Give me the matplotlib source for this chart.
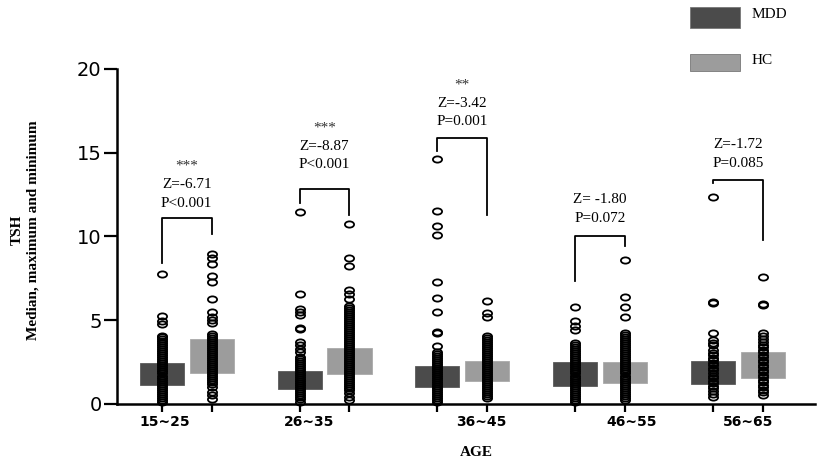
import matplotlib
matplotlib.use("Agg")
import matplotlib.pyplot as plt
from matplotlib.path import Path
from matplotlib.patches import Rectangle
from matplotlib.transforms import Affine2D

# age groups and bar ranges (TSH)
groups = ["15~25", "26~35", "36~45", "46~55", "56~65"]
mdd_low = [1.13, 0.91, 1.03, 1.07, 1.19]
mdd_high = [2.43, 1.97, 2.29, 2.49, 2.57]
hc_low = [1.83, 1.77, 1.39, 1.27, 1.57]
hc_high = [3.86, 3.36, 2.59, 2.53, 3.09]

# individual values
mdd_pts = [
    [7.74, 5.25, 4.96, 4.78, 4.08, 3.97, 3.85, 3.74, 3.62, 3.50, 3.38, 3.26, 3.14, 3.02,
     2.90, 2.78, 2.66, 2.54, 2.42, 2.30, 2.18, 2.06, 1.94, 1.82, 1.70, 1.58, 1.46, 1.34,
     1.22, 1.10, 0.98, 0.86, 0.74, 0.62, 0.50, 0.38, 0.26, 0.14],
    [11.44, 6.55, 5.67, 5.52, 5.31, 4.52, 4.50, 3.72, 3.50, 3.30, 3.10, 2.82, 2.70, 2.58,
     2.46, 2.34, 2.22, 2.10, 1.98, 1.86, 1.74, 1.62, 1.50, 1.38, 1.26, 1.14, 1.02, 0.90,
     0.78, 0.66, 0.54, 0.42, 0.30, 0.14],
    [14.60, 11.52, 10.63, 10.07, 7.27, 6.31, 5.51, 4.30, 4.22, 3.46, 3.12, 3.00, 2.88, 2.76,
     2.64, 2.52, 2.40, 2.28, 2.16, 2.04, 1.92, 1.80, 1.68, 1.56, 1.44, 1.32, 1.20, 1.08,
     0.96, 0.84, 0.72, 0.60, 0.48, 0.36, 0.24, 0.14],
    [5.81, 4.97, 4.66, 4.42, 3.62, 3.50, 3.38, 3.26, 3.14, 3.02, 2.90, 2.78, 2.66, 2.54,
     2.42, 2.30, 2.18, 2.06, 1.94, 1.82, 1.70, 1.58, 1.46, 1.34, 1.22, 1.10, 0.98, 0.86,
     0.74, 0.62, 0.50, 0.38, 0.26, 0.14],
    [12.38, 6.10, 6.04, 4.22, 3.80, 3.62, 3.50, 3.22, 3.05, 2.90, 2.75, 2.60, 2.45, 2.30,
     2.15, 2.00, 1.85, 1.70, 1.55, 1.40, 1.25, 1.10, 0.95, 0.80, 0.62, 0.44],
]
hc_pts = [
    [8.96, 8.70, 8.36, 7.64, 7.30, 6.29, 5.47, 5.21, 5.01, 4.84, 4.18, 4.06, 3.94, 3.82,
     3.70, 3.58, 3.46, 3.34, 3.22, 3.10, 2.98, 2.86, 2.74, 2.62, 2.50, 2.38, 2.26, 2.14,
     2.02, 1.90, 1.78, 1.66, 1.54, 1.42, 1.30, 1.18, 1.03, 0.74, 0.54, 0.28],
    [10.73, 8.73, 8.26, 6.81, 6.55, 6.27, 5.85, 5.73, 5.61, 5.49, 5.37, 5.25, 5.13, 5.01,
     4.89, 4.77, 4.65, 4.53, 4.41, 4.29, 4.17, 4.05, 3.93, 3.81, 3.69, 3.57, 3.45, 3.33,
     3.21, 3.09, 2.97, 2.85, 2.73, 2.61, 2.49, 2.37, 2.25, 2.13, 2.01, 1.89, 1.77, 1.65,
     1.53, 1.41, 1.29, 1.17, 1.05, 0.93, 0.81, 0.64, 0.44, 0.24],
    [6.15, 5.41, 5.21, 4.06, 3.94, 3.82, 3.70, 3.58, 3.46, 3.34, 3.22, 3.10, 2.98, 2.86,
     2.74, 2.62, 2.50, 2.38, 2.26, 2.14, 2.02, 1.90, 1.78, 1.66, 1.54, 1.42, 1.30, 1.18,
     1.06, 0.94, 0.82, 0.70, 0.58, 0.46, 0.34],
    [8.60, 6.41, 5.81, 5.21, 4.22, 4.10, 3.98, 3.86, 3.74, 3.62, 3.50, 3.38, 3.26, 3.14,
     3.02, 2.90, 2.78, 2.66, 2.54, 2.42, 2.30, 2.18, 2.06, 1.94, 1.82, 1.70, 1.58, 1.46,
     1.34, 1.22, 1.10, 0.98, 0.86, 0.74, 0.62, 0.50, 0.38, 0.24],
    [7.60, 5.98, 5.92, 4.22, 4.05, 3.88, 3.70, 3.55, 3.40, 3.25, 3.10, 2.95, 2.80, 2.65,
     2.50, 2.35, 2.20, 2.05, 1.90, 1.75, 1.60, 1.45, 1.30, 1.15, 1.00, 0.85, 0.70, 0.54],
]

# significance brackets: left leg end, top, right leg end
br_left = [8.40, 11.98, 15.12, 7.36, 13.20]
br_top = [11.12, 12.82, 15.86, 10.05, 13.37]
br_right = [10.13, 11.28, 11.28, 9.45, 9.79]
stars = ["***", "***", "**", "", ""]
z_text = ["Z=-6.71", "Z=-8.87", "Z=-3.42", "Z= -1.80", "Z=-1.72"]
p_text = ["P<0.001", "P<0.001", "P=0.001", "P=0.072", "P=0.085"]
p_y = [11.98, 14.27, 16.86, 11.09, 14.37]

# layout
off = 0.181
bar_w = 0.32
label_x = [-0.16, 0.89, 2.14, 3.23, 4.07]
dark = "#4b4b4b"
light = "#9c9c9c"
serif = "Liberation Serif"

# elliptical open circle marker
ell = Path.unit_circle().transformed(Affine2D().scale(1.0, 0.68))

fig = plt.figure(figsize=(8.29, 4.68), dpi=100)
ax = fig.add_axes([0.1411, 0.1368, 0.842, 0.7158])

xm = [i - off for i in range(len(groups))]
xh = [i + off for i in range(len(groups))]

ax.bar(xm, [h - l for h, l in zip(mdd_high, mdd_low)], bottom=mdd_low, width=bar_w,
       color=dark, edgecolor="#5a5a5a", linewidth=0.6, zorder=2)
ax.bar(xh, [h - l for h, l in zip(hc_high, hc_low)], bottom=hc_low, width=bar_w,
       color=light, edgecolor="#aaaaaa", linewidth=0.6, zorder=2)

for i in range(len(groups)):
    for x, vals in ((xm[i], mdd_pts[i]), (xh[i], hc_pts[i])):
        ax.plot([x] * len(vals), vals, ls="none", marker=ell, ms=6.6, mew=1.3,
                mec="black", mfc="none", zorder=3, clip_on=False)

    # bracket
    ax.plot([xm[i], xm[i], xh[i], xh[i]], [br_left[i], br_top[i], br_top[i], br_right[i]],
            color="black", lw=1.3, zorder=4)
    mid = i
    ax.text(mid, p_y[i], p_text[i], ha="center", va="center", fontsize=11, family=serif)
    ax.text(mid, p_y[i] + 1.1, z_text[i], ha="center", va="center", fontsize=11, family=serif)
    if stars[i]:
        ax.text(mid, p_y[i] + 2.2, stars[i], ha="center", va="center", fontsize=11,
                family=serif, color="#333333")

ax.set_xlim(-0.506, 4.559)
ax.set_ylim(0, 20)
ax.set_yticks([0, 5, 10, 15, 20])
ax.set_xticks(xm + xh)
ax.set_xticklabels([])
ax.tick_params(axis="y", length=9.5, width=1.6, labelsize=14, pad=1.5)
ax.tick_params(axis="x", length=6, width=1.6)
for lab in ax.get_yticklabels():
    lab.set_family("DejaVu Sans")

for s in ("top", "right"):
    ax.spines[s].set_visible(False)
for s in ("left", "bottom"):
    ax.spines[s].set_linewidth(1.8)

for i, g in enumerate(groups):
    ax.text(label_x[i], -0.053, g, transform=ax.get_xaxis_transform(), ha="center",
            va="center", fontsize=10, fontweight="bold", family="DejaVu Sans")

fig.text(476 / 829, 1 - 453 / 468, "AGE", ha="center", va="center", fontsize=11,
         fontweight="bold", family=serif)
fig.text(17 / 829, 1 - 230 / 468, "TSH", ha="center", va="center", rotation=90,
         fontsize=11, fontweight="bold", family=serif)
fig.text(33 / 829, 1 - 230 / 468, "Median, maximum and minimum", ha="center", va="center",
         rotation=90, fontsize=11, fontweight="bold", family=serif)

# legend boxes
for y0, h, col, name, ty in ((440 / 468, 21 / 468, dark, "MDD", 15),
                             (397 / 468, 17 / 468, light, "HC", 61)):
    fig.add_artist(Rectangle((690 / 829, y0), 50 / 829, h, transform=fig.transFigure,
                             facecolor=col, edgecolor="#777777", linewidth=0.6))
    fig.text(752 / 829, 1 - ty / 468, name, ha="left", va="center", fontsize=11,
             family=serif)

fig.savefig("out.png", dpi=100)
